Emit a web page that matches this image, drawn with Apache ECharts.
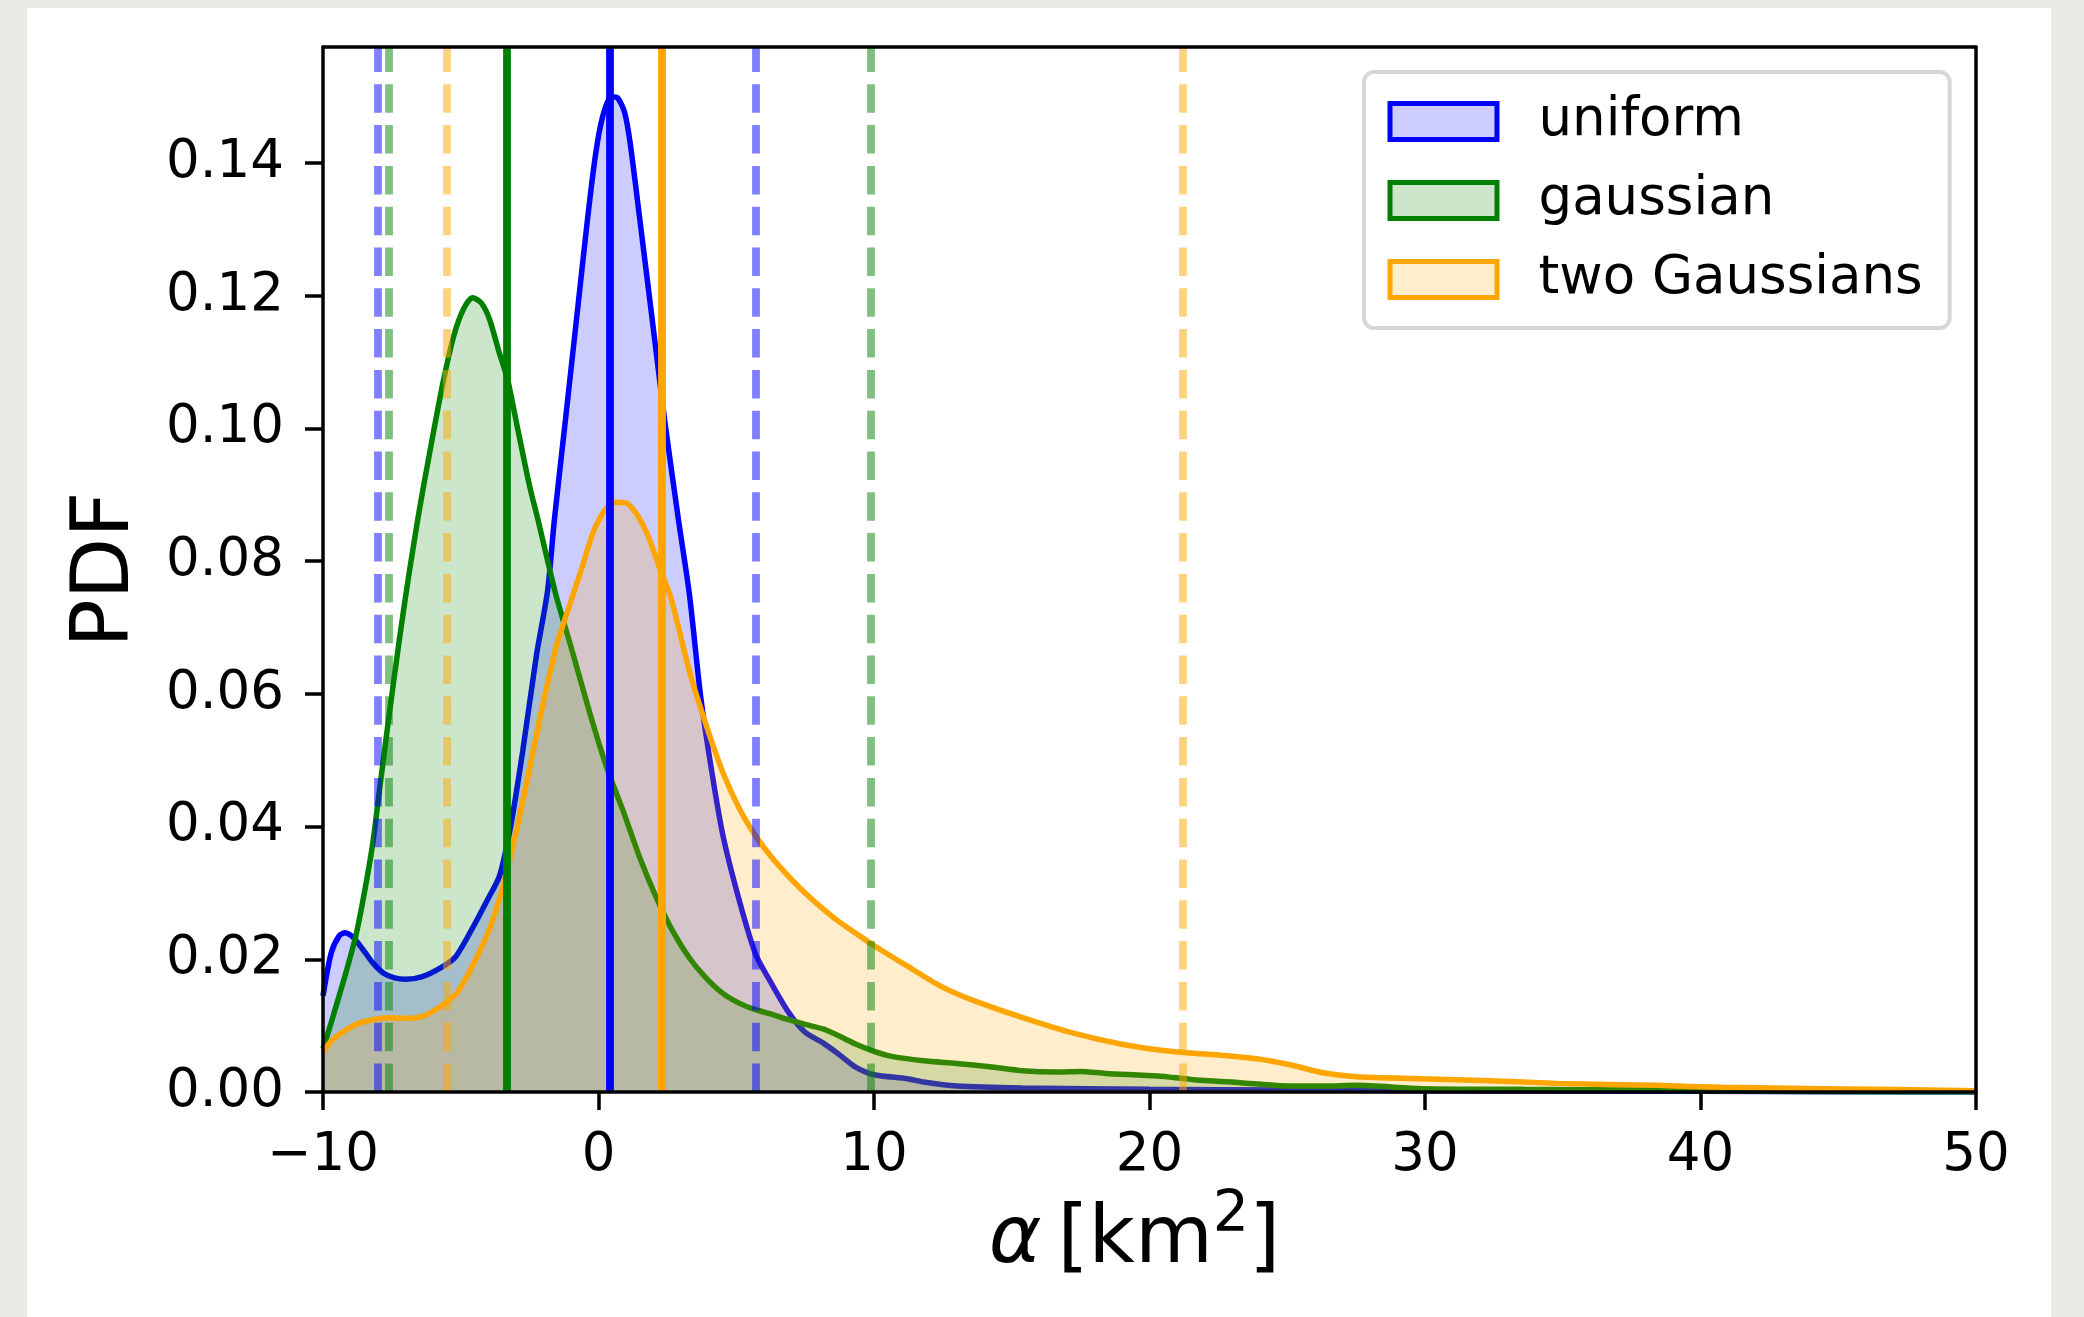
<!DOCTYPE html>
<html>
<head>
<meta charset="utf-8">
<title>PDF of alpha</title>
<script src="https://cdn.jsdelivr.net/npm/echarts@6/dist/echarts.min.js"></script>
<style>
  html, body { margin: 0; padding: 0; width: 2084px; height: 1317px; overflow: hidden; background: #ebe9e4; }
  #card { position: absolute; left: 27px; top: 8px; width: 2024px; height: 1309px; background: #ffffff; }
  #chart { position: absolute; left: 0; top: 0; width: 2084px; height: 1317px; }
</style>
</head>
<body>
<div id="card"></div>
<div id="chart"></div>
<script>
// Kernel density estimates of alpha for the three priors
const seriesNames = ['uniform', 'gaussian', 'two Gaussians'];
const lineColors = ['#0000ff', '#008000', '#ffa500'];
const fillColors = ['rgba(0,0,255,0.2)', 'rgba(0,128,0,0.2)', 'rgba(255,165,0,0.2)'];

const uniformX = [-10, -9.7, -9.4, -9.2, -8.9, -8.5, -8.2, -7.8, -7.4, -7.0,
  -6.4, -5.7, -5.2, -4.6, -4.0, -3.6, -3.2, -2.75, -2.25, -1.85,
  -1.6, -1.2, -0.8, -0.4, -0.1, 0.15, 0.45, 0.7, 0.95, 1.15,
  1.5, 1.95, 2.4, 2.9, 3.3, 3.7, 4.05, 4.5, 5.1, 5.7,
  6.3, 6.9, 7.5, 8.15, 8.75, 9.35, 10.0, 11.2, 11.8, 13.0,
  15.4, 20.0, 25.0, 30.0, 40.0, 50.0];
const uniformPdf = [0.0145, 0.021, 0.0236, 0.024, 0.0233, 0.0212, 0.0195, 0.0179, 0.0172, 0.0170,
  0.0174, 0.0188, 0.0203, 0.0245, 0.0292, 0.0325, 0.0398, 0.0514, 0.0659, 0.0755,
  0.0863, 0.1013, 0.1164, 0.1315, 0.1415, 0.1470, 0.1500, 0.1498, 0.1476, 0.1430,
  0.1315, 0.1164, 0.1013, 0.0863, 0.0750, 0.0599, 0.0499, 0.0390, 0.0290, 0.0208,
  0.0162, 0.0120, 0.0090, 0.0074, 0.0056, 0.0037, 0.0026, 0.0020, 0.0015, 0.0009,
  0.0006, 0.0004, 0.0003, 0.0002, 0.0001, 0.0];

const gaussianX = [-10, -9.7, -9.4, -9.1, -8.8, -8.5, -8.2, -7.95, -7.6, -7.2,
  -6.9, -6.5, -6.1, -5.65, -5.25, -4.9, -4.57, -4.25, -3.95, -3.6,
  -3.3, -2.95, -2.5, -2.2, -1.55, -0.95, -0.3, 0.3, 0.9, 1.5,
  2.1, 2.7, 3.3, 3.9, 4.5, 5.1, 5.7, 6.3, 6.9, 7.5,
  8.15, 8.75, 9.35, 9.95, 10.6, 11.8, 13.0, 14.2, 15.4, 16.6,
  17.5, 18.4, 20.3, 21.5, 23.3, 25.1, 26.3, 27.5, 29.9, 33.6,
  38.4, 42.0, 50.0];
const gaussianPdf = [0.0065, 0.0105, 0.0147, 0.019, 0.0237, 0.0300, 0.0373, 0.0455, 0.0568, 0.0690,
  0.0775, 0.0878, 0.0970, 0.1068, 0.1140, 0.1180, 0.1197, 0.1189, 0.1164, 0.1114,
  0.1074, 0.1003, 0.0913, 0.0863, 0.0750, 0.0664, 0.0569, 0.0489, 0.0423, 0.0353,
  0.0293, 0.0242, 0.0202, 0.0172, 0.0149, 0.0134, 0.0124, 0.0117, 0.0109, 0.0102,
  0.0095, 0.0084, 0.0072, 0.0062, 0.0054, 0.0047, 0.0043, 0.0038, 0.0032, 0.0030,
  0.0031, 0.0028, 0.0024, 0.0019, 0.0014, 0.0009, 0.0009, 0.0010, 0.0005, 0.0004,
  0.0003, 0.0001, 0.0];

const twoGaussX = [-10, -9.7, -9.4, -8.8, -8.2, -7.6, -7.0, -6.4, -5.8, -5.15,
  -4.55, -3.95, -3.35, -2.75, -2.15, -1.55, -1.0, -0.55, -0.2, 0.25,
  0.6, 1.0, 1.4, 1.8, 2.2, 2.65, 3.3, 3.9, 4.5, 5.1,
  5.7, 6.3, 6.9, 7.5, 8.15, 8.75, 9.35, 9.95, 11.2, 12.4,
  13.6, 15.4, 17.2, 19.0, 20.85, 22.7, 23.9, 25.1, 26.3, 27.5,
  29.9, 32.35, 34.8, 38.4, 40.8, 44.5, 50.0];
const twoGaussPdf = [0.006, 0.0077, 0.0087, 0.0102, 0.0109, 0.0112, 0.0111, 0.0114, 0.0127, 0.0149,
  0.0192, 0.0247, 0.0328, 0.0438, 0.0559, 0.0669, 0.0740, 0.0797, 0.0843, 0.0878,
  0.0889, 0.0888, 0.0870, 0.0838, 0.0792, 0.0742, 0.0634, 0.0554, 0.0483, 0.0428,
  0.0386, 0.0353, 0.0325, 0.0300, 0.0276, 0.0256, 0.0239, 0.0222, 0.0190, 0.0160,
  0.0138, 0.0112, 0.0089, 0.0072, 0.0061, 0.0055, 0.0050, 0.0041, 0.0029, 0.0023,
  0.0020, 0.0017, 0.0013, 0.0010, 0.0007, 0.0005, 0.0002];

// Central value (solid) and interval bounds (dashed) of each distribution
const centralValues = [0.42, -3.32, 2.3];
const lowerBounds = [-8.02, -7.61, -5.5];
const upperBounds = [5.7, 9.87, 21.2];

// Axis ticks
const xTicks = [-10, 0, 10, 20, 30, 40, 50];
const yTicks = [0, 0.02, 0.04, 0.06, 0.08, 0.10, 0.12, 0.14];
const yMax = 0.1575;

const FONT = 'DejaVu Sans';
const zip = (xs, ys) => xs.map((x, i) => [x, ys[i]]);
const curves = [zip(uniformX, uniformPdf), zip(gaussianX, gaussianPdf), zip(twoGaussX, twoGaussPdf)];

const series = seriesNames.map((name, i) => ({
  name: name,
  type: 'line',
  z: 2 + i,
  data: curves[i],
  smooth: 0.25,
  showSymbol: false,
  symbol: 'none',
  silent: true,
  animation: false,
  itemStyle: { color: lineColors[i] },
  lineStyle: { color: lineColors[i], width: 5.5 },
  areaStyle: { color: fillColors[i], origin: 'start', opacity: 1 },
  markLine: {
    silent: true,
    z: 10,
    animation: false,
    symbol: ['none', 'none'],
    label: { show: false },
    emphasis: { disabled: true },
    data: [
      { xAxis: centralValues[i], lineStyle: { color: lineColors[i], width: 7.8, type: 'solid', opacity: 1 } },
      { xAxis: lowerBounds[i], lineStyle: { color: lineColors[i], width: 7.8, type: [28.5, 12.3], opacity: 0.5 } },
      { xAxis: upperBounds[i], lineStyle: { color: lineColors[i], width: 7.8, type: [28.5, 12.3], opacity: 0.5 } }
    ]
  }
}));

const spine = { show: true, onZero: false, lineStyle: { color: '#000', width: 3.5 } };
const minus = v => (v < 0 ? '\u2212' + Math.abs(v) : String(v));

const chart = echarts.init(document.getElementById('chart'), null, { renderer: 'canvas' });
chart.setOption({
  backgroundColor: 'transparent',
  animation: false,
  grid: { left: 323, top: 47, width: 1653, height: 1045, containLabel: false },
  legend: {
    data: seriesNames.map((n, i) => ({
      name: n,
      itemStyle: { color: fillColors[i], borderColor: lineColors[i], borderWidth: 5 }
    })),
    orient: 'vertical',
    left: 1364,
    top: 72,
    icon: 'rect',
    itemWidth: 107,
    itemHeight: 36,
    itemGap: 26,
    padding: [23, 27, 22, 23.5],
    backgroundColor: 'rgba(255,255,255,0.8)',
    borderColor: '#d6d6d6',
    borderWidth: 4,
    borderRadius: 10,
    selectedMode: false,
    textStyle: { fontFamily: FONT, fontSize: 53, color: '#000', padding: [0, 0, 0, 36.5] }
  },
  xAxis: [{
    type: 'value', min: -10, max: 50, interval: 10, position: 'bottom', z: 20,
    axisLine: spine,
    axisTick: { show: true, inside: false, length: 18, lineStyle: { color: '#000', width: 3.5 }, customValues: xTicks },
    axisLabel: { margin: 38, fontFamily: FONT, fontSize: 53, color: '#000', formatter: minus, customValues: xTicks, showMinLabel: true, showMaxLabel: true },
    splitLine: { show: false },
    name: '{a|α}{n|\u2009[km}{s|2}{n|]}',
    nameLocation: 'middle',
    nameGap: 99,
    nameTextStyle: {
      fontFamily: FONT, fontSize: 80, color: '#000', padding: [0, 30, 0, 0],
      rich: {
        a: { fontFamily: FONT, fontStyle: 'italic', fontSize: 80, lineHeight: 80, color: '#000' },
        n: { fontFamily: FONT, fontSize: 80, lineHeight: 80, color: '#000' },
        s: { fontFamily: FONT, fontSize: 57, lineHeight: 57, padding: [0, 0, 50, 0], color: '#000' }
      }
    }
  }, {
    type: 'value', min: -10, max: 50, position: 'top', z: 20,
    axisLine: spine, axisTick: { show: false }, axisLabel: { show: false }, splitLine: { show: false }
  }],
  yAxis: [{
    type: 'value', min: 0, max: yMax, position: 'left', z: 20,
    axisLine: spine,
    axisTick: { show: true, inside: false, length: 18, lineStyle: { color: '#000', width: 3.5 }, customValues: yTicks },
    axisLabel: { margin: 39, fontFamily: FONT, fontSize: 53, color: '#000', formatter: v => v.toFixed(2), customValues: yTicks },
    splitLine: { show: false },
    name: 'PDF',
    nameLocation: 'middle',
    nameGap: 176,
    nameTextStyle: { fontFamily: FONT, fontSize: 80, color: '#000' }
  }, {
    type: 'value', min: 0, max: yMax, position: 'right', z: 20,
    axisLine: spine, axisTick: { show: false }, axisLabel: { show: false }, splitLine: { show: false }
  }],
  series: series
});
</script>
</body>
</html>
